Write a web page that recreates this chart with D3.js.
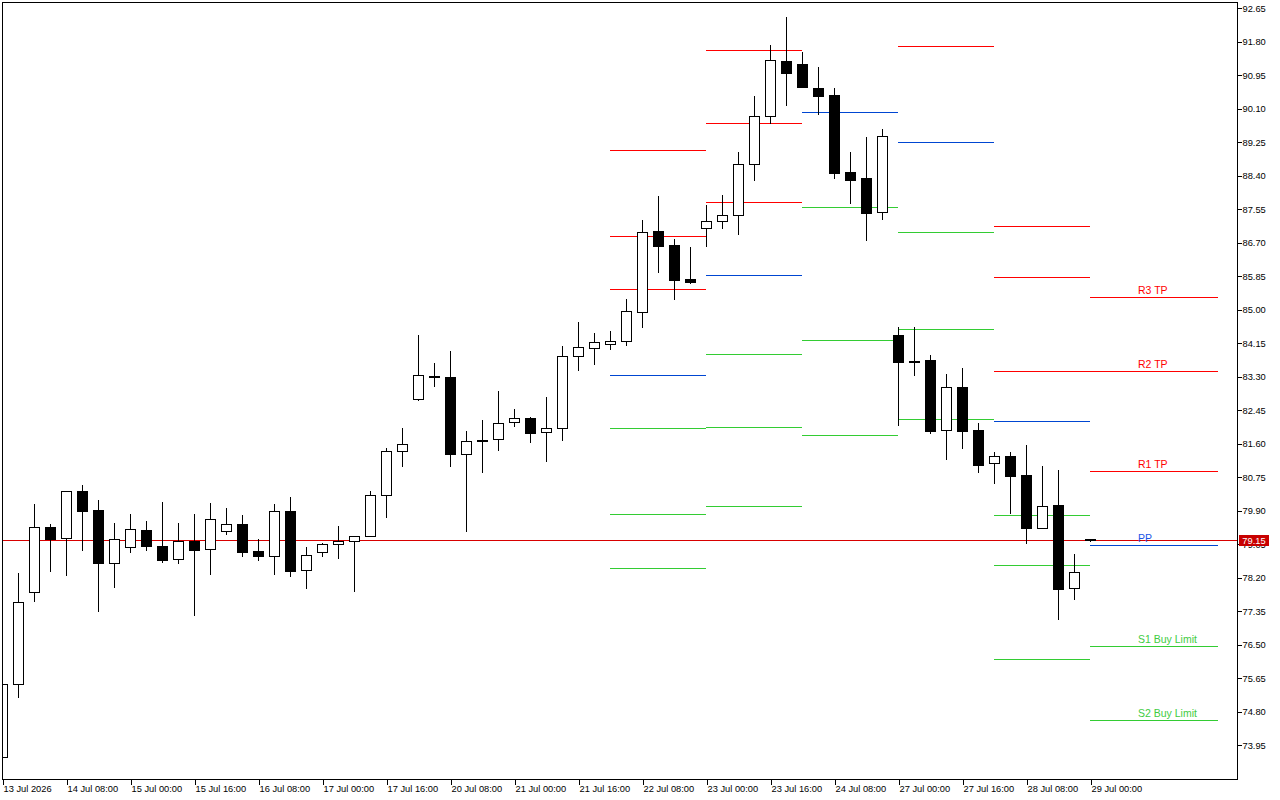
<!DOCTYPE html>
<html>
<head>
<meta charset="utf-8">
<script src="https://cdn.jsdelivr.net/npm/d3@7"></script>
<style>
  html, body { margin: 0; padding: 0; background: #fff; }
  svg { display: block; font-family: "Liberation Sans", Arial, sans-serif; }
</style>
</head>
<body>
<svg id="chart" width="1280" height="800"></svg>
<script>
// H4 bars, 13 Jul 16:00 .. 29 Jul 00:00
const opens = [73.65,75.50,77.83,79.49,79.20,80.40,79.92,78.57,78.97,79.40,79.00,78.67,79.13,78.92,79.38,79.56,78.88,78.75,79.90,78.39,
  78.85,79.05,79.13,79.25,80.29,81.41,82.74,83.31,83.29,81.35,81.69,81.71,82.15,82.25,81.89,81.99,83.82,84.02,84.12,84.20,
  84.94,87.00,86.64,85.78,87.07,87.25,87.40,88.69,89.91,91.31,91.24,90.62,90.45,88.50,88.34,87.47,84.36,83.71,83.73,81.94,
  83.04,81.95,81.11,81.29,80.81,79.46,80.05,77.93,79.17];
const highs = [75.52,78.32,80.07,79.56,80.40,80.55,80.17,79.59,79.82,79.64,80.12,79.59,79.82,80.10,79.97,79.79,79.18,80.07,80.25,78.98,
  79.08,79.51,79.26,80.39,81.49,82.00,84.36,83.65,83.95,81.92,82.20,82.94,82.48,82.28,82.79,84.08,84.69,84.41,84.46,85.27,
  87.28,87.89,86.80,86.59,87.66,87.91,89.00,90.43,91.72,92.43,91.54,91.16,90.63,89.00,89.38,89.59,84.56,84.56,83.85,83.37,
  83.52,82.13,81.39,81.39,81.57,81.04,80.94,78.80,79.18];
const lows = [73.62,75.18,77.62,78.38,78.28,78.89,77.36,77.97,78.86,78.89,78.61,78.58,77.24,78.30,79.32,78.74,78.66,78.30,78.25,77.95,
  78.74,78.71,77.87,79.25,79.75,81.04,82.72,83.07,81.04,79.39,80.89,81.45,82.06,81.65,81.15,81.70,83.48,83.63,84.01,84.11,
  84.55,85.97,85.26,85.69,86.63,87.08,86.93,88.30,89.75,90.20,90.66,89.98,88.35,87.72,86.78,87.29,82.08,83.35,81.86,81.22,
  81.48,80.87,80.61,79.83,79.09,79.46,77.14,77.67,79.14];
const closes = [75.50,77.58,79.48,79.19,80.39,79.90,78.56,79.18,79.43,79.01,78.66,79.13,78.91,79.68,79.56,78.86,78.74,79.89,78.38,78.77,
  79.05,79.13,79.25,80.29,81.41,81.59,83.34,83.32,81.35,81.66,81.66,82.12,82.25,81.88,81.99,83.82,84.05,84.18,84.20,84.96,
  86.97,86.63,85.76,85.71,87.25,87.40,88.69,89.91,91.33,91.00,90.66,90.43,88.48,88.30,87.46,89.40,83.68,83.68,81.91,83.03,
  81.93,81.07,81.28,80.79,79.45,80.01,77.92,78.34,79.15];

const xTickIdx = [0,4,8,12,16,20,24,28,32,36,40,44,48,52,56,60,64,68];
const xTickLabels = ["13 Jul 2026","14 Jul 08:00","15 Jul 00:00","15 Jul 16:00","16 Jul 08:00","17 Jul 00:00",
  "17 Jul 16:00","20 Jul 08:00","21 Jul 00:00","21 Jul 16:00","22 Jul 08:00","23 Jul 00:00","23 Jul 16:00",
  "24 Jul 08:00","27 Jul 00:00","27 Jul 16:00","28 Jul 08:00","29 Jul 00:00"];
const yTicks = [92.65,91.80,90.95,90.10,89.25,88.40,87.55,86.70,85.85,85.00,84.15,83.30,82.45,81.60,80.75,79.90,79.05,78.20,77.35,76.50,75.65,74.80,73.95];

// daily pivot segments (bar index start / end), null = off the chart
const pivStart = [38,44,50,56,62,68];
const pivEnd   = [44,50,56,62,68,76];
const pivR3 = [89.05,91.58,null,null,87.12,85.32];
const pivR2 = [86.86,89.73,null,null,85.82,83.45];
const pivR1 = [85.52,87.73,null,91.69,83.44,80.90];
const pivPP = [83.34,85.88,90.01,89.26,82.17,79.02];
const pivS1 = [81.99,83.87,87.60,86.97,79.79,76.46];
const pivS2 = [79.81,82.02,84.23,84.51,78.52,74.58];
const pivS3 = [78.44,80.01,81.82,82.22,76.13,null];

const lastLabels = ["R3 TP","R2 TP","R1 TP","PP","S1 Buy Limit","S2 Buy Limit"];
const lastPrice = 79.15;

const RED = "#ff0000", BLUE = "#0046d2", GREEN = "#33cc33";
const AXIS_FONT = "9.3px";

const svg = d3.select("#chart");
const pLeft = 2, pRight = 1237, pTop = 2, pBottom = 779;

const x = d3.scaleLinear().domain([0, 1]).range([pLeft, pLeft + 16]);
const y = d3.scaleLinear().domain([73.09, 92.81]).range([pBottom, pTop]);
const py = v => Math.round(y(v)) + 0.5;

svg.append("defs").append("clipPath").attr("id", "plot")
  .append("rect").attr("x", pLeft).attr("y", pTop).attr("width", pRight - pLeft).attr("height", pBottom - pTop);

const plot = svg.append("g").attr("clip-path", "url(#plot)").attr("shape-rendering", "crispEdges");

// pivot lines
const levels = [
  { vals: pivR3, color: RED }, { vals: pivR2, color: RED }, { vals: pivR1, color: RED },
  { vals: pivPP, color: BLUE },
  { vals: pivS1, color: GREEN }, { vals: pivS2, color: GREEN }, { vals: pivS3, color: GREEN }
];
levels.forEach(lv => {
  lv.vals.forEach((v, k) => {
    if (v == null) return;
    plot.append("line")
      .attr("x1", x(pivStart[k])).attr("x2", x(pivEnd[k]))
      .attr("y1", py(v)).attr("y2", py(v))
      .attr("stroke", lv.color).attr("stroke-width", 1);
  });
});

// current price line
plot.append("line")
  .attr("x1", pLeft).attr("x2", pRight)
  .attr("y1", py(lastPrice)).attr("y2", py(lastPrice))
  .attr("stroke", "#d80000").attr("stroke-width", 1);

// candles
const idx = d3.range(opens.length);
plot.selectAll("line.wick").data(idx).enter().append("line")
  .attr("class", "wick")
  .attr("x1", i => x(i) + 0.5).attr("x2", i => x(i) + 0.5)
  .attr("y1", i => Math.round(y(highs[i]))).attr("y2", i => Math.round(y(lows[i])) + 1)
  .attr("stroke", "#000").attr("stroke-width", 1);

plot.selectAll("rect.body").data(idx).enter().append("rect")
  .attr("class", "body")
  .attr("x", i => x(i) - 4.5)
  .attr("width", 10)
  .attr("y", i => py(Math.max(opens[i], closes[i])))
  .attr("height", i => Math.max(1, Math.round(y(Math.min(opens[i], closes[i]))) - Math.round(y(Math.max(opens[i], closes[i])))))
  .attr("fill", i => closes[i] >= opens[i] ? "#fff" : "#000")
  .attr("stroke", "#000").attr("stroke-width", 1);

// labels on the last day's levels
const lastK = pivStart.length - 1;
const lastVals = [pivR3[lastK], pivR2[lastK], pivR1[lastK], pivPP[lastK], pivS1[lastK], pivS2[lastK]];
const lastColors = [RED, RED, RED, "#1a55e6", "#3fcc3f", "#3fcc3f"];
svg.selectAll("text.lvl").data(lastVals).enter().append("text")
  .attr("class", "lvl")
  .attr("x", x(71))
  .attr("y", v => Math.round(y(v)) - 3)
  .attr("fill", (v, k) => lastColors[k])
  .attr("font-size", "10.5px")
  .text((v, k) => lastLabels[k]);

// frame
svg.append("rect")
  .attr("x", pLeft + 0.5).attr("y", pTop + 0.5)
  .attr("width", pRight - pLeft).attr("height", pBottom - pTop)
  .attr("fill", "none").attr("stroke", "#000").attr("shape-rendering", "crispEdges");

// right price axis
const yAxis = svg.append("g")
  .attr("transform", `translate(${pRight + 0.5},0)`)
  .attr("shape-rendering", "crispEdges")
  .call(d3.axisRight(y).tickValues(yTicks).tickSize(4).tickPadding(1).tickFormat(d3.format(".2f")));
yAxis.select(".domain").remove();
yAxis.selectAll("text").attr("font-size", AXIS_FONT).attr("font-family", "Liberation Sans, Arial, sans-serif").attr("fill", "#000");

// bottom time axis
const xAxis = svg.append("g")
  .attr("transform", `translate(0.5,${pBottom + 0.5})`)
  .attr("shape-rendering", "crispEdges")
  .call(d3.axisBottom(x).tickValues(xTickIdx).tickSize(5).tickFormat((d, k) => xTickLabels[k]));
xAxis.select(".domain").remove();
xAxis.selectAll("text")
  .attr("text-anchor", "start")
  .attr("x", 0.5)
  .attr("y", 6)
  .attr("font-size", AXIS_FONT).attr("font-family", "Liberation Sans, Arial, sans-serif").attr("fill", "#000");

// last price tag (drawn over the axis label it sits on, as in the terminal)
const tagY = Math.round(y(lastPrice));
svg.append("rect")
  .attr("x", pRight + 2).attr("y", tagY - 5)
  .attr("width", 30).attr("height", 11)
  .attr("fill", "#c80000");
svg.append("text")
  .attr("x", pRight + 17).attr("y", tagY + 4)
  .attr("text-anchor", "middle")
  .attr("fill", "#fff").attr("font-size", AXIS_FONT)
  .text(lastPrice.toFixed(2));
</script>
</body>
</html>
